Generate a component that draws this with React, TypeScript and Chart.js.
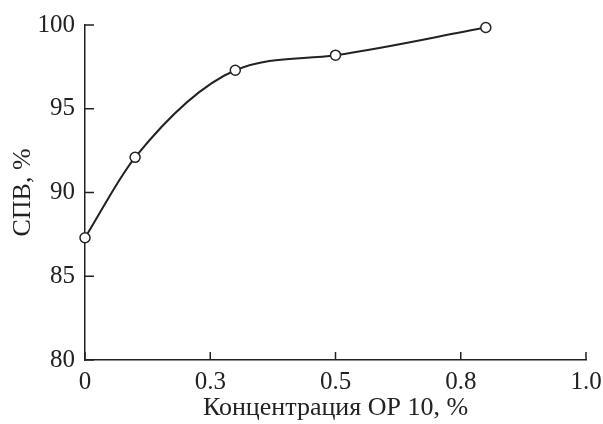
import React, { useEffect, useRef } from "react";
import { Chart, registerables } from "chart.js";

Chart.register(...registerables);

const concentration = [0, 0.1, 0.3, 0.5, 0.8];
const spvValues = [87.3, 92.1, 97.3, 98.2, 99.85];
const xTickValues = [0, 0.25, 0.5, 0.75, 1.0];
const xTickLabels = ["0", "0.3", "0.5", "0.8", "1.0"];
const yTickValues = [80, 85, 90, 95, 100];

const INK = "#222";
const FONT = "'Liberation Serif', 'Times New Roman', serif";

const innerTicks = {
  id: "innerTicks",
  afterDraw(chart: any) {
    const ctx = chart.ctx;
    const xs = chart.scales.x;
    const ys = chart.scales.y;
    ctx.save();
    ctx.strokeStyle = INK;
    ctx.lineWidth = 1.5;
    ctx.beginPath();
    xTickValues.forEach((v) => {
      const px = xs.getPixelForValue(v);
      ctx.moveTo(px, ys.bottom);
      ctx.lineTo(px, ys.bottom - 8);
    });
    yTickValues.forEach((v) => {
      const py = ys.getPixelForValue(v);
      ctx.moveTo(xs.left, py);
      ctx.lineTo(xs.left + 9, py);
    });
    ctx.stroke();
    ctx.restore();
  },
};

export default function App() {
  const ref = useRef<HTMLCanvasElement>(null);
  useEffect(() => {
    document.body.style.margin = "0";
    const chart = new Chart(ref.current!, {
      type: "line",
      data: {
        datasets: [
          {
            data: concentration.map((x, i) => ({ x, y: spvValues[i] })),
            borderColor: INK,
            borderWidth: 2,
            cubicInterpolationMode: "monotone",
            pointRadius: 5,
            pointBorderWidth: 1.5,
            pointBackgroundColor: "#fff",
            pointBorderColor: INK,
            clip: false,
          } as any,
        ],
      },
      options: {
        animation: false,
        responsive: false,
        layout: { padding: { top: 25, right: 17, left: 0, bottom: 0 } },
        plugins: { legend: { display: false }, tooltip: { enabled: false } },
        scales: {
          x: {
            type: "linear",
            min: 0,
            max: 1,
            afterBuildTicks: (s: any) => {
              s.ticks = xTickValues.map((v) => ({ value: v }));
            },
            afterFit: (s: any) => {
              s.height = 64;
              s.paddingRight = 0;
              s.paddingLeft = 0;
            },
            ticks: {
              color: INK,
              font: { family: FONT, size: 25 },
              padding: 7,
              maxRotation: 0,
              autoSkip: false,
              callback: (_v: any, i: number) => xTickLabels[i],
            },
            grid: { display: false, drawTicks: false },
            border: { display: true, color: INK, width: 1.5 },
            title: {
              display: true,
              text: "Концентрация ОР 10, %",
              color: INK,
              font: { family: FONT, size: 26 },
              padding: { top: 0, bottom: 0 },
            },
          },
          y: {
            type: "linear",
            min: 80,
            max: 100,
            afterBuildTicks: (s: any) => {
              s.ticks = yTickValues.map((v) => ({ value: v }));
            },
            afterFit: (s: any) => {
              s.width = 85;
              s.paddingTop = 0;
              s.paddingBottom = 0;
            },
            ticks: {
              color: INK,
              font: { family: FONT, size: 25 },
              padding: 10,
              autoSkip: false,
            },
            grid: { display: false, drawTicks: false },
            border: { display: true, color: INK, width: 1.5 },
            title: {
              display: true,
              text: "СПВ, %",
              color: INK,
              font: { family: FONT, size: 26 },
              padding: { top: 8, bottom: 0 },
            },
          },
        },
      },
      plugins: [innerTicks],
    });
    return () => chart.destroy();
  }, []);
  return (
    <div style={{ position: "absolute", left: 0, top: 0, width: 603, height: 424, background: "#fff" }}>
      <canvas ref={ref} width={603} height={424} />
    </div>
  );
}
